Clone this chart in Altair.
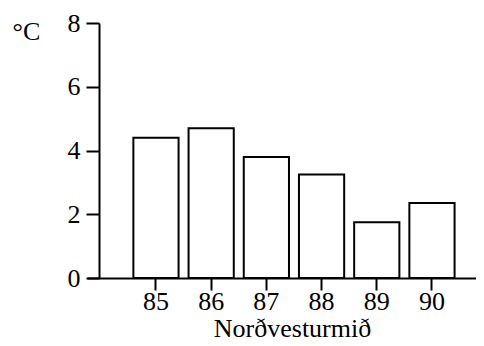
import altair as alt
import pandas as pd

years = ["85", "86", "87", "88", "89", "90"]
temps = [4.4, 4.7, 3.8, 3.25, 1.75, 2.35]
y_ticks = [0, 2, 4, 6, 8]

df = pd.DataFrame({"year": years, "temp": temps})

FONT = "Liberation Serif"

chart = alt.Chart(df).mark_bar(
    fill="white", stroke="black", strokeWidth=2
).encode(
    x=alt.X(
        "year:O",
        sort=years,
        scale=alt.Scale(paddingInner=0.181, paddingOuter=0.614, align=0.684),
        axis=alt.Axis(
            title="Norðvesturmið",
            labelAngle=0,
            labelFont=FONT, labelFontSize=26, labelColor="black",
            labelPadding=-2,
            tickSize=12, tickWidth=2, tickColor="black",
            domainWidth=2, domainColor="black",
            titleFont=FONT, titleFontSize=26, titleFontWeight="normal",
            titleColor="black",
            titleX=205, titleY=58, titleAlign="center",
            titleBaseline="alphabetic",
        ),
    ),
    y=alt.Y(
        "temp:Q",
        scale=alt.Scale(domain=[0, 8], nice=False),
        axis=alt.Axis(
            values=y_ticks,
            offset=-12,
            title="°C",
            titleAngle=0,
            titleX=-87, titleY=16,
            titleAlign="left", titleBaseline="alphabetic",
            titleFont=FONT, titleFontSize=26, titleFontWeight="normal",
            titleColor="black",
            labelFont=FONT, labelFontSize=26, labelColor="black",
            labelPadding=6,
            tickSize=13, tickWidth=2, tickColor="black",
            domainWidth=2, domainColor="black",
            grid=False,
        ),
    ),
).properties(
    width=389,
    height=255,
    autosize=alt.AutoSizeParams(type="none"),
    padding={"left": 79, "top": 15, "right": 0, "bottom": 66},
).configure_view(strokeWidth=0)

chart.save("out.html", embed_options={"renderer": "svg", "actions": False})
